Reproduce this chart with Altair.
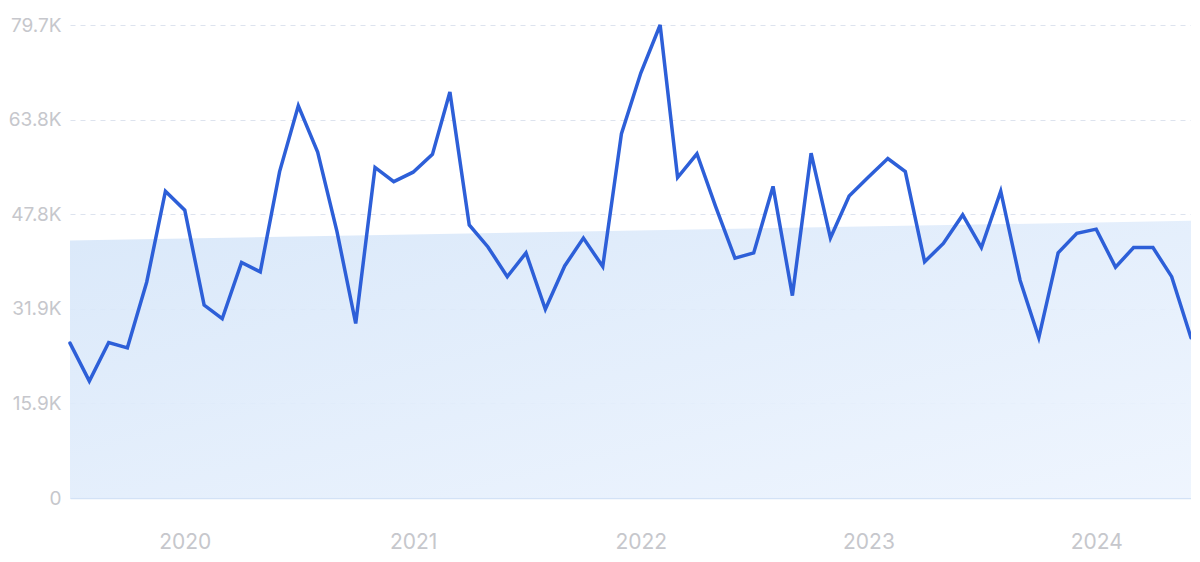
import altair as alt
import pandas as pd

# Monthly values (thousands), Jul 2019 .. Jun 2024
months = pd.date_range("2019-07-01", "2024-06-01", freq="MS").strftime("%Y-%m-%d").tolist()
values_k = [
    26.1, 19.7, 26.2, 25.3, 36.4, 51.7, 48.5, 32.5, 30.2, 39.7,
    38.1, 55.0, 66.1, 58.3, 44.9, 29.4, 55.7, 53.3, 54.9, 57.9,
    68.4, 46.0, 42.3, 37.3, 41.3, 31.8, 39.1, 43.8, 39.0, 61.4,
    71.6, 79.7, 54.0, 58.0, 49.1, 40.4, 41.3, 52.5, 34.1, 58.1,
    43.8, 50.9, 54.1, 57.2, 55.0, 39.8, 42.9, 47.7, 42.2, 51.7,
    36.7, 27.0, 41.3, 44.6, 45.3, 38.9, 42.2, 42.2, 37.3, 27.0,
]
# Background trend band (start / end level, thousands)
trend_dates = ["2019-07-01", "2024-06-01"]
trend_k = [43.4, 46.7]

y_ticks = [0, 15940, 31880, 47820, 63760, 79700]
year_ticks = [2020, 2021, 2022, 2023, 2024]

df = pd.DataFrame({"date": months, "value": [v * 1000 for v in values_k]})
trend = pd.DataFrame({"date": trend_dates, "value": [v * 1000 for v in trend_k]})

x_scale = alt.Scale(type="utc", nice=False, domain=[months[0], months[-1]])
y_scale = alt.Scale(domain=[0, 79700], nice=False, zero=True)

font = "Inter"
label_color = "#c6c7cc"

x_axis = alt.Axis(
    values=[alt.DateTime(year=y, month=1, date=1, utc=True) for y in year_ticks],
    format="%Y",
    formatType="utc",
    title=None,
    grid=False,
    ticks=False,
    domain=True,
    domainColor="#d3e2f6",
    domainWidth=1.5,
    labelColor=label_color,
    labelFont=font,
    labelFontSize=21,
    labelPadding=33,
)
y_axis = alt.Axis(
    values=y_ticks,
    labelExpr="datum.value == 0 ? '0' : format(datum.value / 1000, '.1f') + 'K'",
    title=None,
    domain=False,
    ticks=False,
    grid=True,
    gridColor="#dde3ee",
    gridDash=[5, 5],
    gridWidth=1,
    labelColor=label_color,
    labelFont=font,
    labelFontSize=19,
    labelPadding=9,
)

band = alt.Chart(trend).mark_area(
    color=alt.Gradient(
        gradient="linear",
        stops=[
            alt.GradientStop(color="#d6e6f9", offset=0),
            alt.GradientStop(color="#edf4fe", offset=1),
        ],
        x1=0, x2=1, y1=0, y2=1,
    ),
    opacity=0.9,
).encode(
    x=alt.X("date:T", scale=x_scale, axis=x_axis),
    y=alt.Y("value:Q", scale=y_scale, axis=y_axis),
)

line = alt.Chart(df).mark_line(
    color="#2d5fd8", strokeWidth=3.5, strokeJoin="miter", strokeCap="round"
).encode(
    x=alt.X("date:T", scale=x_scale),
    y=alt.Y("value:Q", scale=y_scale),
)

chart = (band + line).properties(
    width=1121,
    height=473,
    autosize=alt.AutoSizeParams(type="none"),
    padding={"left": 62, "top": 17, "right": 0, "bottom": 54},
).configure(background="white").configure_view(stroke=None)

chart.save("out.html", embed_options={"renderer": "svg", "actions": False})
